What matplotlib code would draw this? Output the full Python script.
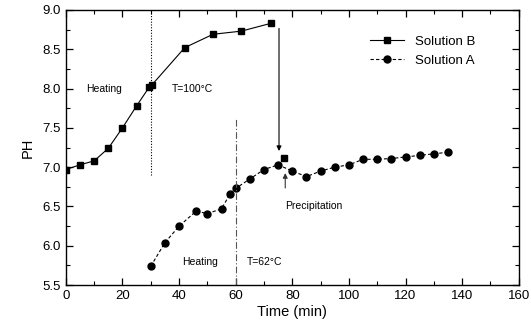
import matplotlib
matplotlib.use("Agg")
import matplotlib.pyplot as plt
from matplotlib.ticker import MultipleLocator, FixedLocator, FixedFormatter

plt.rcParams['font.family'] = ['Liberation Sans', 'DejaVu Sans']

# Solution B (squares)
b_time = [0, 5, 10, 15, 20, 25, 29.5, 30.5, 42, 52, 62, 72.5]
b_ph = [6.97, 7.03, 7.08, 7.24, 7.50, 7.78, 8.02, 8.05, 8.52, 8.69, 8.73, 8.83]
# Solution B after precipitation
b_post_time = [77]
b_post_ph = [7.12]

# Solution A (circles)
a_time = [30, 35, 40, 46, 50, 55, 58, 60, 65, 70, 75, 80, 85, 90, 95, 100,
          105, 110, 115, 120, 125, 130, 135]
a_ph = [5.74, 6.04, 6.25, 6.44, 6.41, 6.47, 6.66, 6.73, 6.85, 6.97, 7.03, 6.95,
        6.88, 6.95, 7.00, 7.03, 7.10, 7.10, 7.11, 7.13, 7.15, 7.17, 7.19]

x_ticks = [0, 20, 40, 60, 80, 100, 120, 140, 160]
y_ticks = [5.5, 6.0, 6.5, 7.0, 7.5, 8.0, 8.5, 9.0]
y_labels = ["5.5", "6.0", "6.5", "7.0", "7.5", "8.0", "8.5", "9.0"]

fig = plt.figure(figsize=(5.31, 3.30), dpi=100)
ax = fig.add_axes([0.124, 0.136, 0.853, 0.834])

ax.plot(b_time, b_ph, '-', color='black', lw=0.8, marker='s', ms=5,
        label='Solution B')
ax.plot(b_post_time, b_post_ph, linestyle='none', color='black', marker='s', ms=5)
ax.plot(a_time, a_ph, linestyle=(0, (3, 2)), color='black', lw=0.8, marker='o',
        ms=5, label='Solution A')

# vertical markers
ax.plot([30, 30], [6.9, 9.0], linestyle=(0, (1, 1.5)), color='black', lw=0.8)
ax.plot([60, 60], [5.5, 7.63], linestyle=(0, (6, 2, 1, 2)), color='#555555', lw=0.8)

# arrows
ax.annotate('', xy=(75.3, 7.17), xytext=(75.3, 8.80),
            arrowprops=dict(arrowstyle='-|>', color='black', lw=0.8,
                            mutation_scale=7))
ax.annotate('', xy=(77.5, 6.96), xytext=(77.5, 6.70),
            arrowprops=dict(arrowstyle='-|>', color='#333333', lw=0.8,
                            mutation_scale=7))

ax.text(13.5, 8.0, 'Heating', fontsize=7.5, ha='center', va='center')
ax.text(37.5, 8.0, 'T=100\u00b0C', fontsize=7.5, ha='left', va='center')
ax.text(47.5, 5.8, 'Heating', fontsize=7.5, ha='center', va='center')
ax.text(64, 5.8, 'T=62\u00b0C', fontsize=7.5, ha='left', va='center')
ax.text(87.5, 6.51, 'Precipitation', fontsize=7.5, ha='center', va='center')

ax.set_xlim(0, 160)
ax.set_ylim(5.5, 9.0)
ax.xaxis.set_major_locator(FixedLocator(x_ticks))
ax.xaxis.set_minor_locator(MultipleLocator(10))
ax.yaxis.set_major_locator(FixedLocator(y_ticks))
ax.yaxis.set_major_formatter(FixedFormatter(y_labels))
ax.yaxis.set_minor_locator(MultipleLocator(0.25))
ax.tick_params(which='both', direction='in', top=True, right=True, labelsize=9.5)
ax.tick_params(which='major', length=5, width=0.9)
ax.tick_params(which='minor', length=3, width=0.8)
for s in ax.spines.values():
    s.set_linewidth(1.0)

ax.set_xlabel('Time (min)', fontsize=10.5, labelpad=2)
ax.set_ylabel('PH', fontsize=10.5, labelpad=6)

ax.legend(loc='upper right', frameon=False, fontsize=9.5,
          bbox_to_anchor=(0.93, 0.95), handlelength=2.6, labelspacing=0.5)

fig.savefig('out.png', dpi=100)
